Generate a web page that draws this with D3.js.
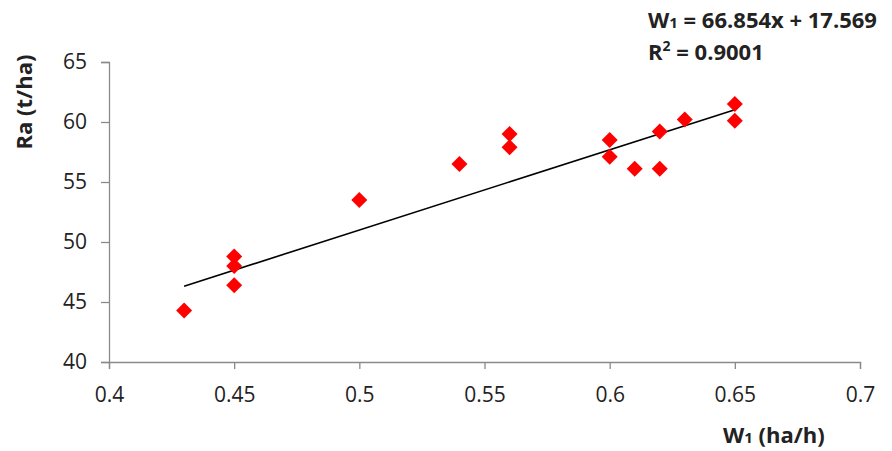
<!DOCTYPE html>
<html>
<head>
<meta charset="utf-8">
<script src="https://cdn.jsdelivr.net/npm/d3@7"></script>
<style>
  body { margin: 0; background: #fff; }
  text { font-family: "Open Sans", "Liberation Sans", sans-serif; }
</style>
</head>
<body>
<svg id="chart" width="892" height="451"></svg>
<script>
const w1Values = [0.43, 0.45, 0.45, 0.45, 0.5, 0.54, 0.56, 0.56, 0.6, 0.6, 0.61, 0.62, 0.62, 0.63, 0.65, 0.65];
const raValues = [44.3, 48.8, 48.0, 46.4, 53.5, 56.5, 59.0, 57.9, 58.5, 57.1, 56.1, 56.1, 59.2, 60.2, 61.5, 60.1];
const xTicks = [0.4, 0.45, 0.5, 0.55, 0.6, 0.65, 0.7];
const yTicks = [40, 45, 50, 55, 60, 65];
const slope = 66.854;
const intercept = 17.569;
const rSquared = "0.9001";

const svg = d3.select("#chart");

const x = d3.scaleLinear().domain([0.4, 0.7]).range([109, 860]);
const y = d3.scaleLinear().domain([40, 65]).range([362, 62]);

const axisColor = "#8a8a8a";
const tickFont = 21;

// x axis
const gx = svg.append("g")
    .attr("transform", `translate(0, ${y(40)})`)
    .call(d3.axisBottom(x).tickValues(xTicks).tickSize(7).tickPadding(18)
        .tickFormat(d => String(+d.toFixed(2))));
gx.select(".domain").attr("stroke", axisColor).attr("stroke-width", 1.3);
gx.selectAll(".tick line").attr("stroke", axisColor).attr("stroke-width", 1.3);
gx.selectAll(".tick text").attr("font-size", tickFont).attr("fill", "#222");

// y axis
const gy = svg.append("g")
    .attr("transform", `translate(${x(0.4)}, 0)`)
    .call(d3.axisLeft(y).tickValues(yTicks).tickSize(8).tickPadding(14));
gy.select(".domain").attr("stroke", axisColor).attr("stroke-width", 1.3);
gy.selectAll(".tick line").attr("stroke", axisColor).attr("stroke-width", 1.3);
gy.selectAll(".tick text").attr("font-size", tickFont).attr("fill", "#222");

// trend line
svg.append("line")
    .attr("x1", x(0.43)).attr("y1", y(slope * 0.43 + intercept))
    .attr("x2", x(0.65)).attr("y2", y(slope * 0.65 + intercept))
    .attr("stroke", "#000")
    .attr("stroke-width", 1.6);

// diamonds
const half = 8;
const diamond = `M0,${-half}L${half},0L0,${half}L${-half},0Z`;
svg.append("g")
    .selectAll("path")
    .data(w1Values.map((v, i) => [v, raValues[i]]))
    .join("path")
    .attr("d", diamond)
    .attr("transform", d => `translate(${x(d[0])},${y(d[1])})`)
    .attr("fill", "#ff0000");

// axis titles
svg.append("text")
    .attr("transform", "translate(32, 102) rotate(-90)")
    .attr("text-anchor", "middle")
    .attr("font-size", 22)
    .attr("font-weight", "bold")
    .attr("fill", "#222")
    .text("Ra (t/ha)");

const xTitle = svg.append("text")
    .attr("x", 723).attr("y", 443)
    .attr("font-size", 22)
    .attr("font-weight", "bold")
    .attr("fill", "#222");
xTitle.append("tspan").text("W");
xTitle.append("tspan").attr("font-size", 15).text("1");
xTitle.append("tspan").text(" (ha/h)");

// equation label
const eq = svg.append("text")
    .attr("x", 648).attr("y", 28)
    .attr("font-size", 22)
    .attr("font-weight", "bold")
    .attr("fill", "#222");
eq.append("tspan").text("W");
eq.append("tspan").attr("font-size", 15).text("1");
eq.append("tspan").text(` = ${slope}x + ${intercept}`);

const r2 = svg.append("text")
    .attr("x", 648).attr("y", 60)
    .attr("font-size", 22)
    .attr("font-weight", "bold")
    .attr("fill", "#222");
r2.append("tspan").text("R");
r2.append("tspan").attr("font-size", 14).attr("dy", -9).text("2");
r2.append("tspan").attr("dy", 9).text(` = ${rSquared}`);
</script>
</body>
</html>
